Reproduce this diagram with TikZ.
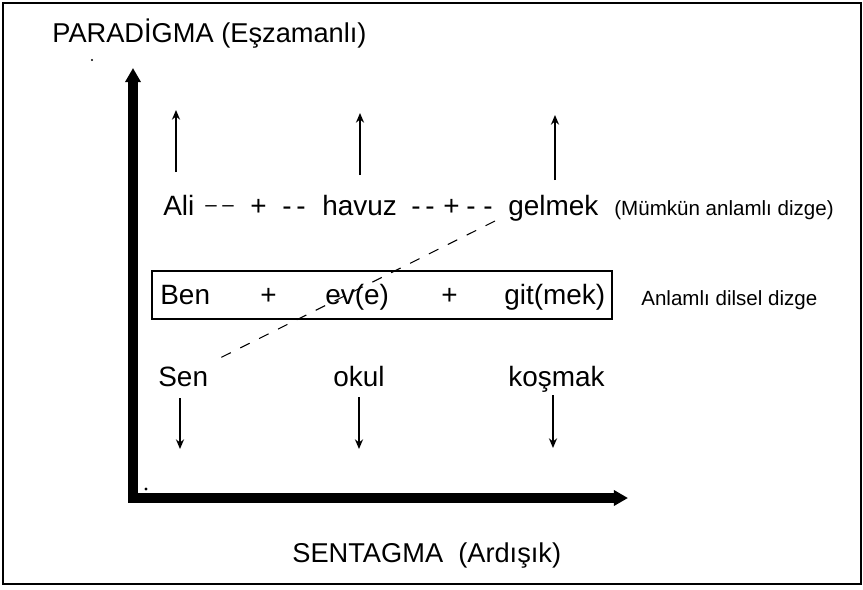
\documentclass[tikz,border=0pt]{standalone}
\usepackage{fontspec}
\setmainfont{Liberation Sans}
\usetikzlibrary{arrows.meta}

\begin{document}
\begin{tikzpicture}[x=0.02cm,y=-0.02cm,every node/.style={inner sep=0pt,anchor=base west},
>={Stealth[length=5.5pt,width=4.6pt]},
big/.style={font=\fontsize{15.9}{18}\selectfont},
head/.style={font=\fontsize{15.5}{18}\selectfont},
small/.style={font=\fontsize{11.7}{14}\selectfont},
axis/.style={line width=5.4pt,line join=miter,{Triangle[length=8pt,width=8.5pt]}-{Triangle[length=8pt,width=8.5pt]}}]
\useasboundingbox(0,0)rectangle(863,589);
\draw[line width=0.9pt](3,3)rectangle(861,584);
\node[head](par)at(52,42){PARADİGMA (Eşzamanlı)};
\node[head](sent)at(292,562){SENTAGMA\ \ (Ardışık)};
\draw[axis](133,68)coordinate(py)--(133,498)coordinate(O)--(628,498)coordinate(sx);
\fill(92,60)circle(0.7pt)(146,489)circle(0.9pt);
% paradigma row
\node[big](ali)at(163,215){Ali};
\node[small](m1)at(205,211.5){– –};
\node[big](p1)at(250,215){+};
\node[big](m2)at(282,215){-\,-};
\node[big](havuz)at(322,215){havuz};
\node[big](m3)at(411,215){-\,-};
\node[big](p2)at(443,215){+};
\node[big](m4)at(466,215){- -};
\node[big](gelmek)at(508,215){gelmek};
\node[small](mumkun)at(614,215){(Mümkün anlamlı dizge)};
% sentagma row
\draw[line width=0.85pt](152,271)coordinate(b1)rectangle(612,319)coordinate(b2);
\node[big](ben)at(160,304){Ben};
\node[big](p3)at(260,304){+};
\node[big](eve)at(325,304){ev(e)};
\node[big](p4)at(441,304){+};
\node[big](git)at(504,304){git(mek)};
\node[small](anlamli)at(641,305){Anlamlı dilsel dizge};
% lower row
\node[big](sen)at(158,386){Sen};
\node[big](okul)at(333,386){okul};
\node[big](kosmak)at(508,386){koşmak};
\foreach \n/\x/\a/\b in {1/176/172/110,2/360/175/113,3/555/180/115}{
\coordinate(up\n a)at(\x,\a);\coordinate(up\n b)at(\x,\b);
\draw[->,line width=0.85pt](up\n a)--(up\n b);}
\foreach \n/\x/\a/\b in {1/180/398/449,2/359/397/449,3/553/395/448}{
\coordinate(dn\n a)at(\x,\a);\coordinate(dn\n b)at(\x,\b);
\draw[->,line width=0.85pt](dn\n a)--(dn\n b);}
\coordinate(d1)at(495,221);\coordinate(d2)at(212,362);
\draw[line width=0.6pt,dash pattern=on 6pt off 6pt](d1)--(d2);
\end{tikzpicture}
\end{document}
